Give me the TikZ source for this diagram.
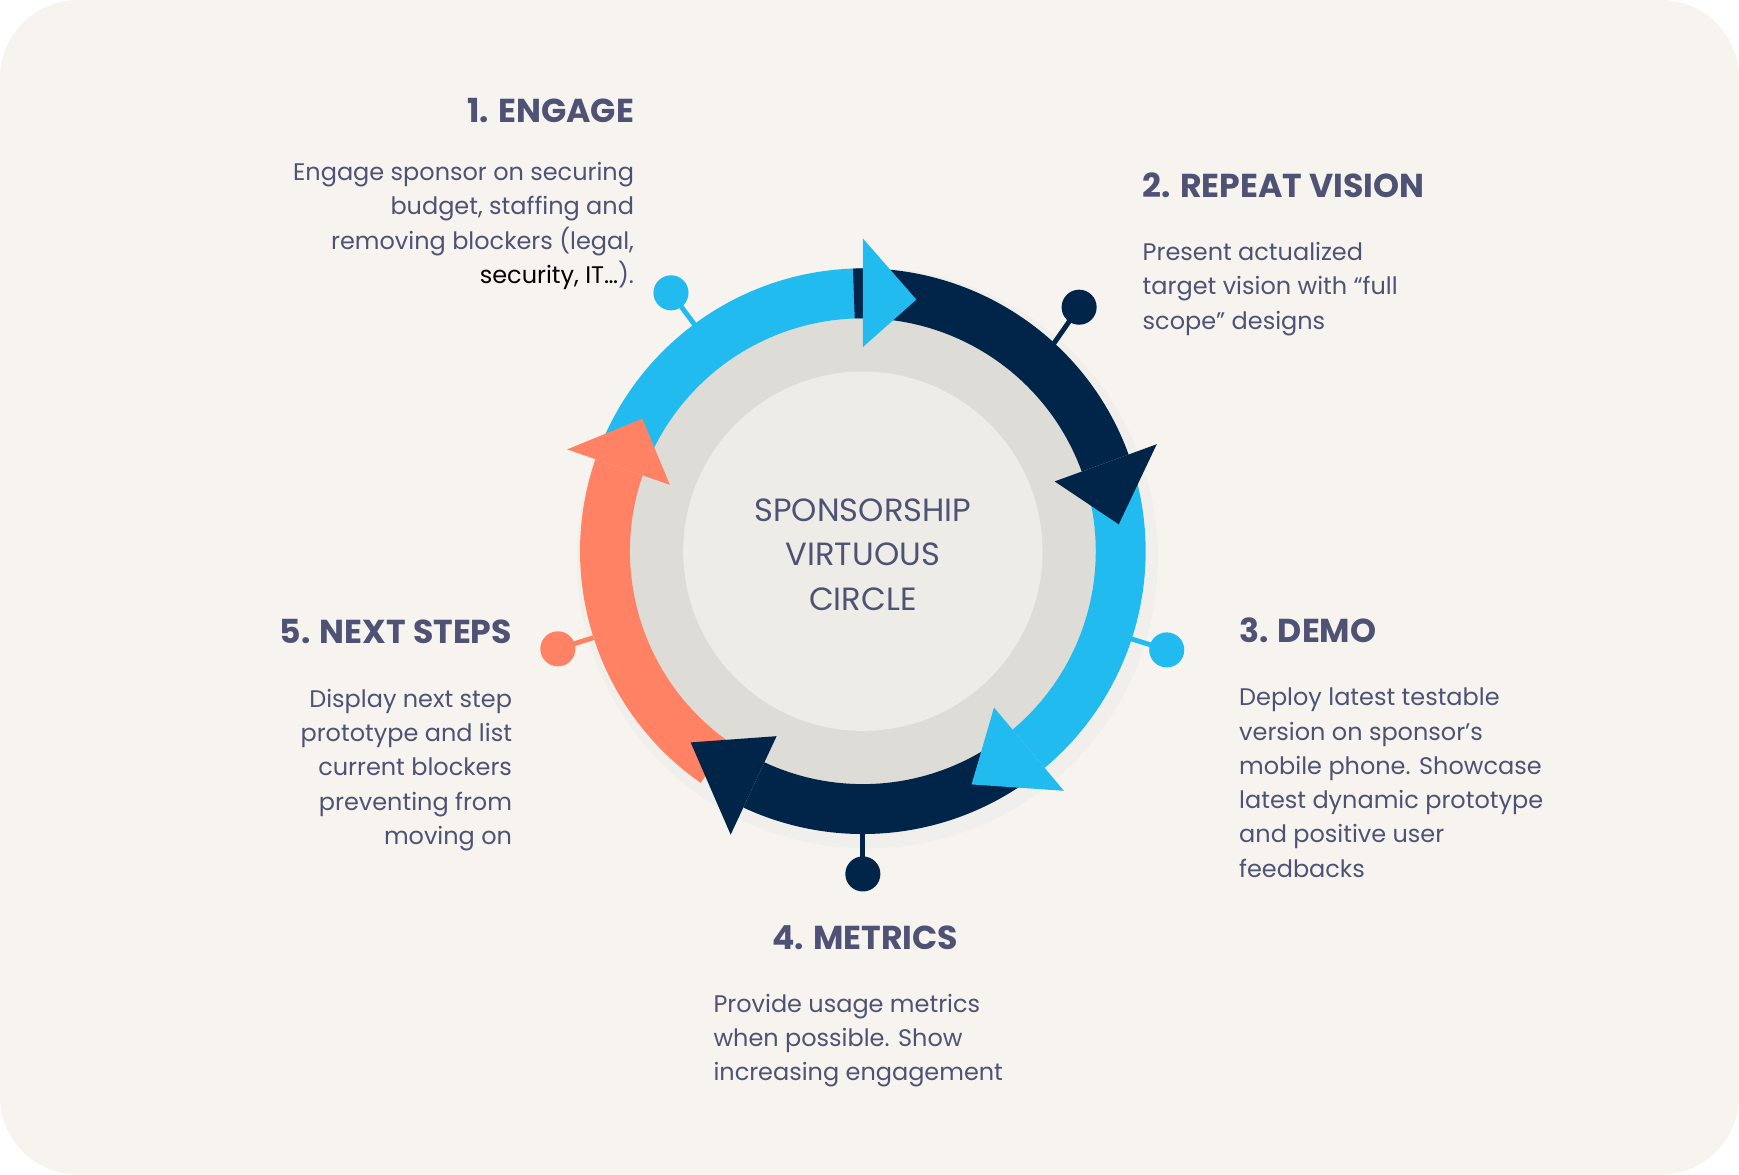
\documentclass[tikz,border=0pt]{standalone}
\usepackage{fontspec}
\setmainfont{Poppins}
\usetikzlibrary{calc}
\definecolor{bgc}{HTML}{F7F4EF}
\definecolor{lblue}{HTML}{22BBF0}
\definecolor{navy}{HTML}{002548}
\definecolor{orng}{HTML}{FF8264}
\definecolor{txt}{HTML}{4E5275}
\definecolor{gring}{HTML}{DEDCD7}
\definecolor{ginner}{HTML}{EEECE7}
\tikzset{
 ttl/.style={text=txt,font=\bfseries\fontsize{17}{20}\selectfont,inner sep=0pt},
 bdy/.style={text=txt,font=\fontsize{12.3}{17.6}\selectfont,inner sep=0pt},
 pin/.style={line width=2.5pt},
}
\newcommand{\ringbody}[3]{\fill[#1] ($(C)+(#2:255)$) arc[start angle=#2,end angle=#3,radius=255] -- ($(C)+(#3:210)$) arc[start angle=#3,end angle=#2,radius=210] -- cycle;}
\newcommand{\ringhead}[3]{\fill[#1] ($(C)+(#2:282)$) -- ($(C)+(#3:232)$) -- ($(C)+(#2:184)$) -- cycle;}
\begin{document}
\begin{tikzpicture}[x=0.02cm,y=0.02cm]
\useasboundingbox (0,0) rectangle (1568,-1059);
\fill[bgc] (0,0) [rounded corners=40] rectangle (1568,-1059);
\coordinate (C) at (778,-497);
\fill[black!8,opacity=0.5] ($(C)+(4,-6)$) circle (262);
\fill[gring] (C) circle (212);
\fill[ginner] (C) circle (162);
% pins
\draw[pin,lblue] (628,-295) -- (605,-264) node[circle,fill=lblue,inner sep=0pt,minimum size=18] (p1) {};
\draw[pin,navy] (950,-310) -- (973,-277) node[circle,fill=navy,inner sep=0pt,minimum size=18] (p2) {};
\draw[pin,lblue] (1020,-576) -- (1052,-586) node[circle,fill=lblue,inner sep=0pt,minimum size=18] (p3) {};
\draw[pin,navy] (778,-750) -- (778,-788) node[circle,fill=navy,inner sep=0pt,minimum size=18] (p4) {};
\draw[pin,orng] (535,-575) -- (503,-585) node[circle,fill=orng,inner sep=0pt,minimum size=18] (p5) {};
% ring bodies
\ringbody{lblue}{160}{90}
\ringbody{navy}{92}{20}
\ringbody{lblue}{15}{-50}
\ringbody{navy}{-55}{-115}
\ringbody{orng}{235}{161}
% heads
\ringhead{lblue}{90}{78}
\ringhead{navy}{20}{6}
\ringhead{lblue}{-50}{-65}
\ringhead{navy}{-115}{-132}
\ringhead{orng}{161}{149}
% center text
\node[text=txt,font=\fontsize{16.5}{22.7}\selectfont,align=center] (ctr) at (778,-500) {SPONSORSHIP\\VIRTUOUS\\CIRCLE};
% texts
\node[ttl,anchor=base east] (t1) at (572,-110) {1. ENGAGE};
\node[bdy,anchor=north east,align=right] (b1) at (572,-146) {Engage sponsor on securing\\budget, staffing and\\removing blockers (legal,\\\textcolor{black}{security, IT…}).};
\node[ttl,anchor=base west] (t2) at (1030,-178) {2. REPEAT VISION};
\node[bdy,anchor=north west,align=left] (b2) at (1030,-218) {Present actualized\\target vision with “full\\scope” designs};
\node[ttl,anchor=base west] (t3) at (1117,-579) {3. DEMO};
\node[bdy,anchor=north west,align=left] (b3) at (1117,-620) {Deploy latest testable\\version on sponsor’s\\mobile phone. Showcase\\latest dynamic prototype\\and positive user\\feedbacks};
\node[ttl,anchor=base] (t4) at (780,-856) {4. METRICS};
\node[bdy,anchor=north west,align=left] (b4) at (643,-896) {Provide usage metrics\\when possible. Show\\increasing engagement};
\node[ttl,anchor=base east] (t5) at (462,-580) {5. NEXT STEPS};
\node[bdy,anchor=north east,align=right] (b5) at (462,-621) {Display next step\\prototype and list\\current blockers\\preventing from\\moving on};
\end{tikzpicture}
\end{document}
